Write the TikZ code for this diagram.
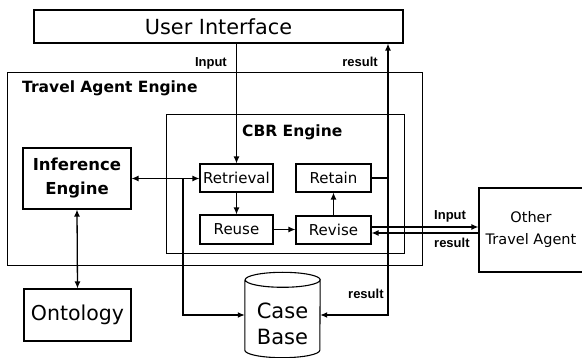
\documentclass[tikz,border=0pt]{standalone}
\usepackage{fontspec}
\setmainfont{DejaVu Sans}
\newfontfamily\lblfont{Liberation Sans}
\usetikzlibrary{arrows.meta,calc}
\begin{document}
\begin{tikzpicture}[x=1pt,y=-1pt,
  box/.style={draw,line width=1.1pt,inner sep=0pt,align=center},
  frame/.style={draw,line width=1pt,inner sep=0pt},
  conn/.style={line width=1.3pt},
  arr/.style={conn,-{Latex[length=7pt,width=6pt]}},
  darr/.style={conn,{Latex[length=7pt,width=6pt]}-{Latex[length=7pt,width=6pt]}},
  lbl/.style={font=\lblfont\bfseries\fontsize{13}{13}\selectfont,inner sep=0pt},
  title/.style={font=\bfseries\fontsize{15.5}{18}\selectfont,inner sep=0pt},
  stage/.style={box,font=\fontsize{15}{18}\selectfont},
]
\useasboundingbox (0,0) rectangle (582,358);

% outer frames
\node[frame,minimum width=415pt,minimum height=193pt] (tae) at (214.5,169.5) {};
\node[title,anchor=base west] (taelbl) at (22,93) {Travel Agent Engine};
\node[frame,minimum width=238pt,minimum height=139pt] (cbr) at (285,184.5) {};
\node[title,anchor=base west] (cbrlbl) at (242,137) {CBR Engine};

% boxes
\node[box,minimum width=369pt,minimum height=33pt,font=\fontsize{20.8}{24}\selectfont] (ui) at (218.5,26.5) {User Interface};
\node[box,minimum width=108pt,minimum height=61pt,font=\bfseries\fontsize{16.5}{24}\selectfont] (ie) at (77,178.5) {Inference\\Engine};
\node[box,minimum width=107pt,minimum height=52pt,font=\fontsize{20.5}{24}\selectfont] (ont) at (77.5,315) {Ontology};
\node[stage,minimum width=73pt,minimum height=28pt] (ret) at (236.5,178) {Retrieval};
\node[stage,minimum width=73pt,minimum height=29pt] (reu) at (236.5,229.5) {Reuse};
\node[stage,minimum width=75pt,minimum height=28pt] (rta) at (333.5,178) {Retain};
\node[stage,minimum width=75pt,minimum height=28pt] (rev) at (333.5,230) {Revise};
\node[box,minimum width=104pt,minimum height=84pt,font=\fontsize{14.5}{22}\selectfont] (ota) at (531,230) {Other\\Travel Agent};

% case base cylinder
\node[inner sep=0pt,minimum width=75pt,minimum height=85pt] (cb) at (282.5,315) {};
\draw[line width=1.1pt]
  ([yshift=-7.5pt]cb.north west) -- ([yshift=7.5pt]cb.south west)
  arc[start angle=180,end angle=360,x radius=37.5pt,y radius=7.5pt]
  -- ([yshift=-7.5pt]cb.north east)
  arc[start angle=0,end angle=180,x radius=37.5pt,y radius=7.5pt]
  arc[start angle=180,end angle=360,x radius=37.5pt,y radius=7.5pt];
\node[inner sep=0pt,align=center,font=\fontsize{21}{26}\selectfont] (cbtext) at (282.5,323.5) {Case\\Base};

% junction points
\coordinate (tap) at (183,178.5);
\coordinate (rx) at (388,178);

% connectors
\draw[arr] (ret.north |- ui.south) -- (ret.north);
\draw[darr] (ie.east) -- (ie.east -| ret.west);
\draw[arr] (tap) |- (cb.west);
\draw[arr] (ret.south) -- (reu.north);
\draw[arr] (reu.east) -- (reu.east -| rev.west);
\draw[arr] (rev.north) -- (rta.south);
\draw[conn] (rta.east) -- (rx);
\draw[arr] (rx) -- (rx |- ui.south);
\draw[arr] (rx) |- (cb.east);
\draw[arr] ([yshift=3pt]rev.east) -- ([yshift=3pt]rev.east -| ota.west);
\draw[arr] ([yshift=-3pt]rev.east -| ota.west) -- ([yshift=-3pt]rev.east);
\draw[darr] (ie.south) -- (ont.north);

% connector labels
\node[lbl,anchor=base east] (lin1) at (227,67) {Input};
\node[lbl,anchor=base east] (lres1) at (378,67) {result};
\node[lbl,anchor=base west] (lin2) at (434,220) {Input};
\node[lbl,anchor=base west] (lres2) at (434,248) {result};
\node[lbl,anchor=base west] (lres3) at (348,299) {result};
\end{tikzpicture}
\end{document}
